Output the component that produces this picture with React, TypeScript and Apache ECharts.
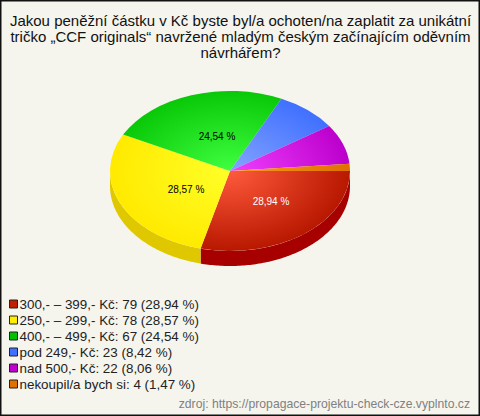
import React, { useEffect, useRef } from "react";
import * as echarts from "echarts";

const titleLines = [
  "Jakou peněžní částku v Kč byste byl/a ochoten/na zaplatit za unikátní",
  "tričko „CCF originals“ navržené mladým českým začínajícím oděvním",
  "návrhářem?",
];
const categories = ["300,- – 399,- Kč", "250,- – 299,- Kč", "400,- – 499,- Kč", "pod 249,- Kč", "nad 500,- Kč", "nekoupil/a bych si"];
const counts = [79, 78, 67, 23, 22, 4];
const percents = ["28,94", "28,57", "24,54", "8,42", "8,06", "1,47"];
const sourceText = "zdroj: https://propagace-projektu-check-cze.vyplnto.cz";

const legendColors = ["#c02000", "#ffee00", "#00c000", "#4070ff", "#c000d0", "#e07000"];
const innerColors = ["#ff5a3c", "#ffff28", "#40ff40", "#84a4ff", "#f040ff", "#ff9a20"];
const outerColors = ["#b81800", "#ffea00", "#08c808", "#4070ff", "#bc00cc", "#e07000"];
const sideColors = ["#a60000", "#e0c800", "#008000", "#2040a0", "#800090", "#a05000"];
const labelColors = ["#ffffff", "#000000", "#000000"];
const labelOffsets = [[41, 30], [-44, 18], [-13, -35]];

const CX = 230, CY = 171, RX = 120, RY = 80, DEPTH = 15;
const total = counts.reduce((a, b) => a + b, 0);

function App() {
  const ref = useRef<HTMLDivElement>(null);
  useEffect(() => {
    document.body.style.margin = "0";
    const chart = echarts.init(ref.current!, null, { renderer: "svg" });
    let acc = 0;
    const spans = counts.map((c) => {
      const start = (acc / total) * Math.PI * 2;
      acc += c;
      return [start, (acc / total) * Math.PI * 2];
    });
    const names = categories.map((c, i) => `${c}: ${counts[i]} (${percents[i]} %)`);
    const series: any[] = names.map((name, i) => ({
      type: "custom",
      name,
      coordinateSystem: "none",
      itemStyle: { color: legendColors[i] },
      data: [counts[i]],
      silent: true,
      renderItem: () => {
        const [a0, a1] = spans[i];
        const children: any[] = [];
        const s0 = Math.min(a0, Math.PI), s1 = Math.min(a1, Math.PI);
        if (s1 > s0) {
          const pts: number[][] = [];
          const n = Math.max(8, Math.ceil((s1 - s0) * 60));
          for (let k = 0; k <= n; k++) {
            const t = s0 + ((s1 - s0) * k) / n;
            pts.push([CX + RX * Math.cos(t), CY + RY * Math.sin(t)]);
          }
          for (let k = n; k >= 0; k--) {
            const t = s0 + ((s1 - s0) * k) / n;
            pts.push([CX + RX * Math.cos(t), CY + DEPTH + RY * Math.sin(t)]);
          }
          children.push({ type: "polygon", shape: { points: pts }, style: { fill: sideColors[i] } });
        }
        children.push({
          type: "group",
          x: CX,
          y: CY,
          scaleX: 1,
          scaleY: RY / RX,
          children: [
            {
              type: "sector",
              shape: { cx: 0, cy: 0, r: RX, r0: 0, startAngle: a0, endAngle: a1, clockwise: true },
              style: {
                fill: new echarts.graphic.RadialGradient(0, 0, RX, [
                  { offset: 0, color: innerColors[i] },
                  { offset: 1, color: outerColors[i] },
                ], true),
              },
            },
          ],
        });
        if (labelOffsets[i]) {
          children.push({
            type: "text",
            x: CX + labelOffsets[i][0],
            y: CY + labelOffsets[i][1],
            z2: 10,
            style: {
              text: `${percents[i]} %`,
              fill: labelColors[i],
              font: "10px 'Liberation Sans', Arial, sans-serif",
              align: "center",
              verticalAlign: "middle",
            },
          });
        }
        return { type: "group", children };
      },
    }));
    chart.setOption({
      animation: false,
      backgroundColor: "#f5f5ee",
      legend: {
        orient: "vertical",
        left: 9,
        top: 297,
        itemWidth: 8,
        itemHeight: 8,
        itemGap: 2,
        padding: 0,
        selectedMode: false,
        icon: "rect",
        formatter: (n: string) => n,
        textStyle: { fontFamily: "'Liberation Sans', Arial, sans-serif", fontSize: 13.4, color: "#222222", padding: [0, 0, 0, -3], lineHeight: 14 },
        data: names.map((name, i) => ({ name, itemStyle: { color: legendColors[i], borderColor: "#222222", borderWidth: 1 } })),
      },
      graphic: [
        { type: "rect", silent: true, z: -1, shape: { x: 0.75, y: 0.75, width: 478.5, height: 414.5 }, style: { fill: "none", stroke: "#111111", lineWidth: 1.5 } },
        ...titleLines.map((text, i) => ({
          type: "text",
          x: 240.5,
          y: 20.5 + i * 16,
          style: { text, fill: "#111111", font: "15px 'Liberation Sans', Arial, sans-serif", align: "center", verticalAlign: "middle" },
        })),
        {
          type: "text",
          x: 470,
          y: 404,
          style: { text: sourceText, fill: "#808080", font: "12.2px 'Liberation Sans', Arial, sans-serif", align: "right", verticalAlign: "middle" },
        },
      ],
      series,
    });
    return () => chart.dispose();
  }, []);
  return <div ref={ref} style={{ width: 480, height: 416 }} />;
}

export default App;
